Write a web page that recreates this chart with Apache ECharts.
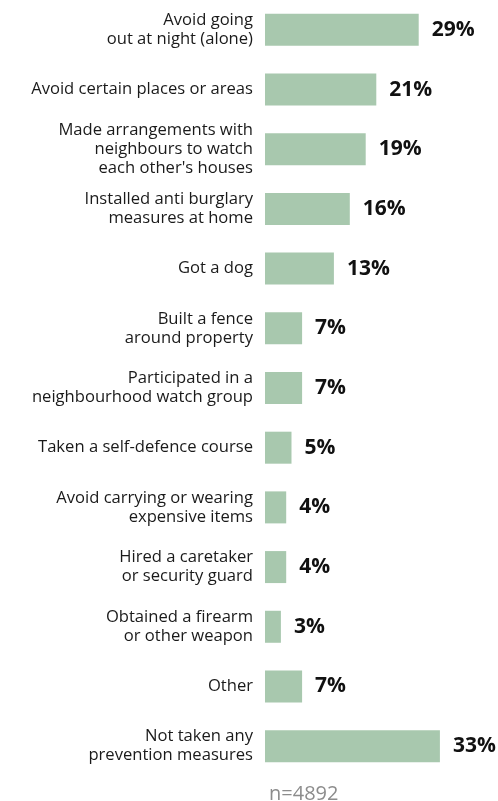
<!DOCTYPE html>
<html>
<head>
<meta charset="utf-8">
<script src="https://cdn.jsdelivr.net/npm/echarts@6/dist/echarts.min.js"></script>
<style>
  html, body { margin: 0; padding: 0; background: #fff; }
  #chart { width: 498px; height: 801px; }
</style>
</head>
<body>
<div id="chart"></div>
<script>
// Crime prevention measures taken by households (share of respondents)
const categories = [
  'Avoid going\nout at night (alone)',
  'Avoid certain places or areas',
  'Made arrangements with\nneighbours to watch\neach other\'s houses',
  'Installed anti burglary\nmeasures at home',
  'Got a dog',
  'Built a fence\naround property',
  'Participated in a\nneighbourhood watch group',
  'Taken a self-defence course',
  'Avoid carrying or wearing\nexpensive items',
  'Hired a caretaker\nor security guard',
  'Obtained a firearm\nor other weapon',
  'Other',
  'Not taken any\nprevention measures'
];
const values = [29, 21, 19, 16, 13, 7, 7, 5, 4, 4, 3, 7, 33];
const sampleNote = 'n=4892';

const chart = echarts.init(document.getElementById('chart'));
chart.setOption({
  animation: false,
  backgroundColor: '#ffffff',
  title: {
    text: sampleNote,
    left: 264,
    top: 779,
    textStyle: { fontFamily: 'Open Sans', fontSize: 20, fontWeight: 'normal', color: '#8c8c8c' }
  },
  grid: { left: 265, right: 21, top: 0, height: 776, containLabel: false },
  xAxis: {
    type: 'value', min: 0, max: 40,
    show: false
  },
  yAxis: {
    type: 'category',
    data: categories,
    inverse: true,
    axisLine: { show: false },
    axisTick: { show: false },
    axisLabel: {
      margin: 12,
      fontFamily: 'Open Sans',
      fontSize: 16.6,
      lineHeight: 19,
      color: '#1a1a1a',
      align: 'right'
    }
  },
  series: [{
    type: 'bar',
    data: values,
    barWidth: 32,
    itemStyle: { color: '#a8c8ae' },
    label: {
      show: true,
      position: 'right',
      distance: 13,
      formatter: '{c}%',
      fontFamily: 'Open Sans',
      fontSize: 21,
      fontWeight: 'bold',
      color: '#111'
    }
  }]
});
</script>
</body>
</html>
